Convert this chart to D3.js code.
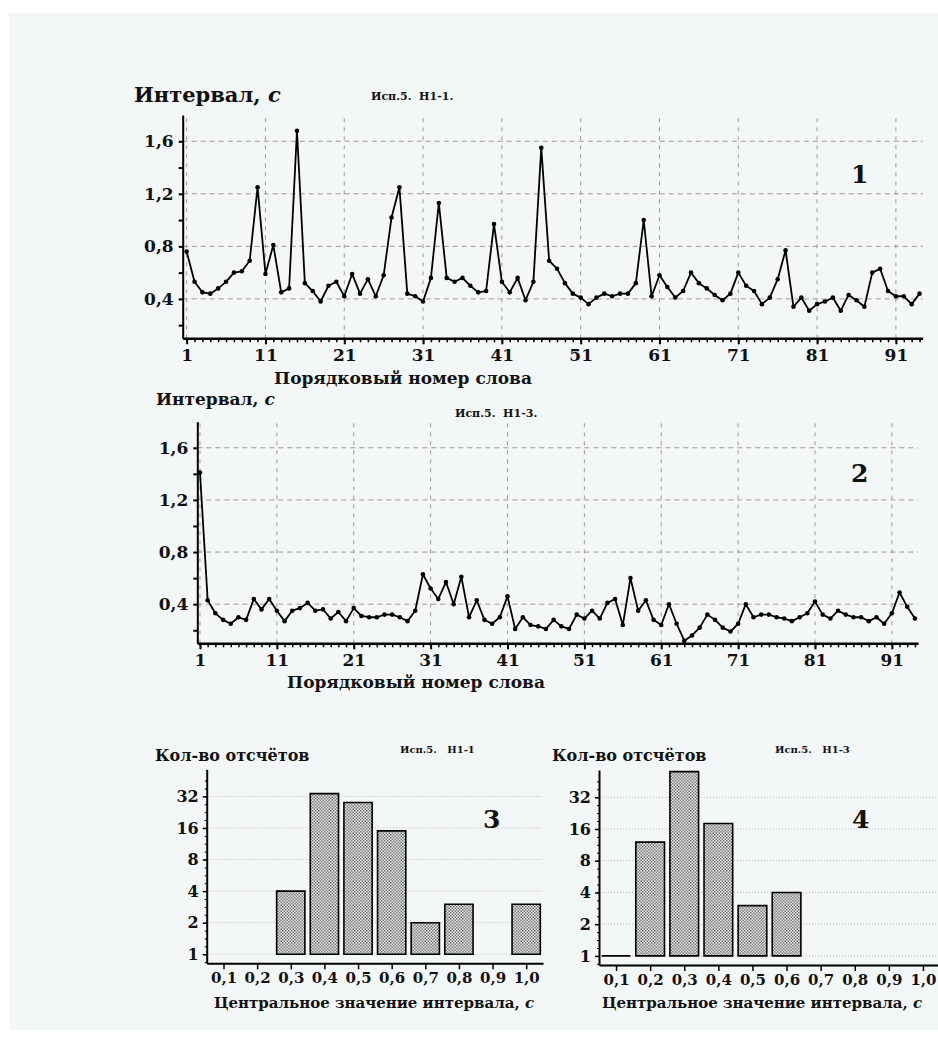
<!DOCTYPE html>
<html>
<head>
<meta charset="utf-8">
<script src="https://cdn.jsdelivr.net/npm/d3@7"></script>
<style>
  body { margin: 0; background: #fff; }
  svg text { font-family: "DejaVu Serif", "Liberation Serif", serif; font-weight: bold; fill: #111; }
</style>
</head>
<body>
<div id="graphe"></div>
<script>
// donnees : intervalle entre les mots (s), Исп.5
var words = d3.range(1, 95);
var seriesH11 = [0.76,0.53,0.45,0.44,0.48,0.53,0.60,0.61,0.69,1.25,
  0.59,0.81,0.45,0.48,1.68,0.52,0.46,0.38,0.50,0.53,
  0.42,0.59,0.44,0.55,0.42,0.58,1.02,1.25,0.44,0.42,
  0.38,0.56,1.13,0.56,0.53,0.56,0.50,0.45,0.46,0.97,
  0.53,0.45,0.56,0.39,0.53,1.55,0.69,0.63,0.52,0.44,
  0.41,0.36,0.41,0.44,0.42,0.44,0.44,0.52,1.00,0.42,
  0.58,0.49,0.41,0.46,0.60,0.52,0.48,0.43,0.39,0.44,
  0.60,0.50,0.46,0.36,0.41,0.55,0.77,0.34,0.41,0.31,
  0.36,0.38,0.41,0.31,0.43,0.39,0.34,0.60,0.63,0.46,
  0.42,0.42,0.36,0.44];
var seriesH13 = [1.41,0.43,0.33,0.28,0.25,0.30,0.28,0.44,0.36,0.44,
  0.35,0.27,0.35,0.37,0.41,0.35,0.36,0.29,0.34,0.27,
  0.37,0.31,0.30,0.30,0.32,0.32,0.30,0.27,0.35,0.63,
  0.52,0.44,0.57,0.40,0.61,0.30,0.43,0.28,0.25,0.30,
  0.46,0.21,0.30,0.24,0.23,0.21,0.28,0.23,0.21,0.32,
  0.29,0.35,0.29,0.41,0.44,0.24,0.60,0.35,0.43,0.28,
  0.24,0.40,0.25,0.12,0.16,0.22,0.32,0.28,0.22,0.19,
  0.25,0.40,0.30,0.32,0.32,0.30,0.29,0.27,0.30,0.33,
  0.42,0.32,0.29,0.35,0.32,0.30,0.30,0.27,0.30,0.25,
  0.33,0.49,0.38,0.29];
var wordTicks = [1, 11, 21, 31, 41, 51, 61, 71, 81, 91];
var intervalTicks = [0.4, 0.8, 1.2, 1.6];

// histogrammes
var bins = [0.1, 0.2, 0.3, 0.4, 0.5, 0.6, 0.7, 0.8, 0.9, 1.0];
var countsH11 = [0, 0, 4, 34, 28, 15, 2, 3, 0, 3];
var countsH13 = [1, 12, 56, 18, 3, 4, 0, 0, 0, 0];
var countTicks = [1, 2, 4, 8, 16, 32];

var width = 938, height = 1041;
var locale = d3.formatLocale({decimal: ",", thousands: " ", grouping: [3], currency: ["", ""]});
var fmt = locale.format(".1f");

var svg = d3.select("#graphe").append("svg")
  .attr("width", width)
  .attr("height", height);

svg.append("rect")
  .attr("x", 9).attr("y", 13)
  .attr("width", width - 9).attr("height", 1017)
  .attr("fill", "#f4f7f7");

var defs = svg.append("defs");
var pat = defs.append("pattern")
  .attr("id", "grille")
  .attr("width", 3).attr("height", 3)
  .attr("patternUnits", "userSpaceOnUse");
pat.append("rect").attr("width", 3).attr("height", 3).attr("fill", "#e6e6e6");
pat.append("rect").attr("width", 1.5).attr("height", 1.5).attr("fill", "#7a7a7a");
pat.append("rect").attr("x", 1.5).attr("y", 1.5).attr("width", 1.5).attr("height", 1.5).attr("fill", "#7a7a7a");

function lineChart(o) {
  var g = svg.append("g");
  var x = d3.scaleLinear().domain([o.x0, 94.4]).range([o.left, o.right]);
  var y = d3.scaleLinear().domain([0.1, 1.8]).range([o.bottom, o.top]);

  // grille
  g.append("g").selectAll("line")
    .data(intervalTicks)
    .enter().append("line")
      .attr("x1", o.left).attr("x2", o.right)
      .attr("y1", y).attr("y2", y)
      .attr("stroke", "#9a9a9a")
      .attr("stroke-dasharray", "5,4");
  g.append("g").selectAll("line")
    .data(wordTicks)
    .enter().append("line")
      .attr("x1", x).attr("x2", x)
      .attr("y1", o.bottom).attr("y2", o.top)
      .attr("stroke", "#9a9a9a")
      .attr("stroke-dasharray", "4,5");

  // axes
  var xMinor = g.append("g")
    .attr("transform", "translate(0," + o.bottom + ")")
    .call(d3.axisBottom(x).tickValues(words).tickSize(4).tickFormat(""));
  xMinor.select(".domain").remove();
  xMinor.selectAll("line").attr("stroke-width", 1.5);

  var xAxis = g.append("g")
    .attr("transform", "translate(0," + o.bottom + ")")
    .call(d3.axisBottom(x).tickValues(wordTicks).tickSize(6).tickSizeOuter(0).tickPadding(5));
  xAxis.select(".domain").attr("stroke-width", 2.5);
  xAxis.selectAll("line").attr("stroke-width", 2);
  xAxis.selectAll("text").attr("font-size", o.tick + "px").attr("font-family", null);

  var yAxis = g.append("g")
    .attr("transform", "translate(" + o.left + ",0)")
    .call(d3.axisLeft(y).tickValues([0.2, 0.4, 0.6, 0.8, 1.0, 1.2, 1.4, 1.6]).tickSize(4).tickSizeOuter(0)
      .tickPadding(5)
      .tickFormat(function(d) { return intervalTicks.indexOf(d) >= 0 ? fmt(d) : ""; }));
  yAxis.select(".domain").attr("stroke-width", 2);
  yAxis.selectAll("line").attr("stroke-width", 2);
  yAxis.selectAll("text").attr("font-size", o.tick + "px").attr("font-family", null);

  // courbe
  g.append("path")
    .datum(o.data)
    .attr("fill", "none")
    .attr("stroke", "#000")
    .attr("stroke-width", 1.8)
    .attr("stroke-linejoin", "round")
    .attr("d", d3.line().x(function(d, i) { return x(words[i]); }).y(function(d) { return y(d); }));
  g.append("g").selectAll("circle")
    .data(o.data)
    .enter().append("circle")
      .attr("cx", function(d, i) { return x(words[i]); })
      .attr("cy", function(d) { return y(d); })
      .attr("r", 2.3)
      .attr("fill", "#000");

  // textes
  var t = g.append("text").attr("x", o.titleX).attr("y", o.titleY).attr("font-size", o.titleSize + "px");
  t.append("tspan").text("Интервал, ");
  t.append("tspan").attr("font-style", "italic").text("с");
  g.append("text").attr("x", o.subX).attr("y", o.subY).attr("font-size", "11px")
    .attr("xml:space", "preserve").text(o.sub);
  g.append("text").attr("x", 851).attr("y", o.numY).attr("font-size", "25px").text(o.num);
  g.append("text").attr("x", o.labelX).attr("y", o.labelY).attr("text-anchor", "middle")
    .attr("font-size", "17px").text("Порядковый номер слова");
}

lineChart({data: seriesH11, x0: 0.5, left: 182.7, right: 922.7, top: 115, bottom: 338.3, tick: 17,
  titleX: 134, titleY: 102, titleSize: 21, sub: "Исп.5.  Н1-1.", subX: 371, subY: 100,
  num: "1", numY: 183, labelX: 403, labelY: 384});
lineChart({data: seriesH13, x0: 0.65, left: 197.3, right: 918, top: 421.7, bottom: 643.3, tick: 17,
  titleX: 156, titleY: 405, titleSize: 17, sub: "Исп.5.  Н1-3.", subX: 455, subY: 417,
  num: "2", numY: 482, labelX: 416, labelY: 688});

function histogram(o) {
  var g = svg.append("g");
  var x = d3.scaleLinear().domain([0.05, 1.05]).range([o.left, o.right]);
  var y = d3.scaleLog().base(2).domain([0.82, 58]).range([o.bottom, o.top]);

  g.append("g").selectAll("line")
    .data(countTicks)
    .enter().append("line")
      .attr("x1", o.left).attr("x2", o.gridRight)
      .attr("y1", y).attr("y2", y)
      .attr("stroke", "#b8b8b8")
      .attr("stroke-dasharray", "1,2");

  // petites graduations de l'axe vertical
  var minor = d3.range(-1, 23).map(function(k) { return Math.pow(2, k / 4); })
    .filter(function(v) { return v > 0.82 && v < 58; });
  var yMinor = g.append("g")
    .attr("transform", "translate(" + o.left + ",0)")
    .call(d3.axisLeft(y).tickValues(minor).tickSize(2).tickFormat(""));
  yMinor.select(".domain").remove();

  var yAxis = g.append("g")
    .attr("transform", "translate(" + o.left + ",0)")
    .call(d3.axisLeft(y).tickValues(countTicks).tickSize(4).tickSizeOuter(0).tickPadding(4)
      .tickFormat(d3.format("d")));
  yAxis.select(".domain").attr("stroke-width", 2);
  yAxis.selectAll("line").attr("stroke-width", 1.5);
  yAxis.selectAll("text").attr("font-size", "16px").attr("font-family", null);

  var xAxis = g.append("g")
    .attr("transform", "translate(0," + o.bottom + ")")
    .call(d3.axisBottom(x).tickValues(bins).tickSize(6).tickSizeOuter(0).tickPadding(3)
      .tickFormat(function(d) { return fmt(d); }));
  xAxis.select(".domain").attr("stroke-width", 2);
  xAxis.selectAll("line").attr("stroke-width", 1.5);
  xAxis.selectAll("text").attr("font-size", "15px").attr("font-family", null);

  // barres (base a 1)
  g.append("g").selectAll("path")
    .data(bins.filter(function(b, i) { return o.counts[i] > 0; }))
    .enter().append("path")
      .attr("d", function(b) {
        var c = o.counts[bins.indexOf(b)];
        var x0 = x(b - 0.042), x1 = x(b + 0.042), y0 = y(1), y1 = y(c);
        return "M" + x0 + "," + y0 + "V" + y1 + "H" + x1 + "V" + y0 + "Z";
      })
      .attr("fill", "url(#grille)")
      .attr("stroke", "#000")
      .attr("stroke-width", 1.6);

  g.append("text").attr("x", o.titleX).attr("y", 761).attr("font-size", "16px").text("Кол-во отсчётов");
  g.append("text").attr("x", o.subX).attr("y", 753).attr("font-size", "10px")
    .attr("xml:space", "preserve").text(o.sub);
  g.append("text").attr("x", o.numX).attr("y", 828).attr("font-size", "25px").text(o.num);
  var lab = g.append("text").attr("x", o.labelX).attr("y", 1008).attr("text-anchor", "middle").attr("font-size", "15px");
  lab.append("tspan").text("Центральное значение интервала, ");
  lab.append("tspan").attr("font-style", "italic").text("с");
}

histogram({counts: countsH11, left: 206.7, right: 543, gridRight: 543, top: 769.3, bottom: 963.3,
  titleX: 155, sub: "Исп.5.   Н1-1", subX: 400, num: "3", numX: 483, labelX: 374});
histogram({counts: countsH13, left: 599, right: 940, gridRight: 938, top: 770, bottom: 965,
  titleX: 552, sub: "Исп.5.   Н1-3", subX: 775, num: "4", numX: 852, labelX: 762});
</script>
</body>
</html>
